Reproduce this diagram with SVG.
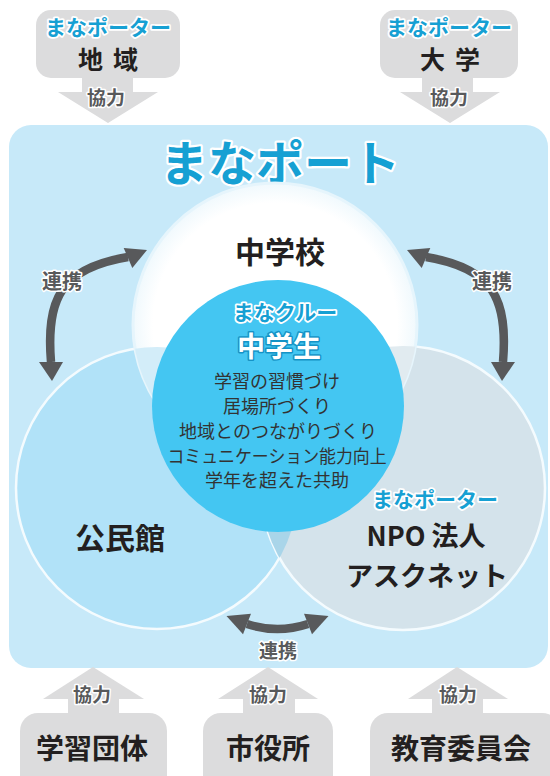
<svg xmlns="http://www.w3.org/2000/svg" width="550" height="776" viewBox="0 0 550 776">
<style>
text{font-family:"Noto Sans CJK JP","Noto Sans",sans-serif;text-anchor:middle;font-weight:700}
.dark{fill:#231f20}
.blue{fill:#16a0d3;stroke:#fff;stroke-width:3.5;paint-order:stroke;stroke-linejoin:round}
.gray{fill:#58595b;stroke:#fff;stroke-width:3;paint-order:stroke;stroke-linejoin:round}
.list{fill:#333;font-weight:400;font-size:18px}
.box{fill:#dcdcdd}
.link{fill:none;stroke:#58595b;stroke-width:8.5}
.head{fill:#58595b}
</style>
<defs>
<clipPath id="clipL"><circle cx="157" cy="488" r="141"/></clipPath>
<clipPath id="clipT"><circle cx="275" cy="325" r="142"/></clipPath>
<radialGradient id="gT" cx="0.5" cy="0.5" r="0.5">
<stop offset="0.86" stop-color="#ffffff"/>
<stop offset="1" stop-color="#f0f9fd"/>
</radialGradient>
</defs>

<rect id="bg" x="9" y="125" width="539" height="543" rx="22" fill="#c7e9f9"/>

<g id="partner-chiiki">
<rect class="box" x="36" y="10" width="144" height="68" rx="15"/>
<polygon class="box" points="82,76 133,76 133,92 158,92 108,123 58,92 82,92"/>
<text class="blue" x="108" y="35" font-size="21">まなポーター</text>
<text class="dark" x="113" y="69" font-size="25" letter-spacing="10">地域</text>
<text class="gray" x="106" y="105" font-size="19">協力</text>
</g>

<g id="partner-daigaku">
<rect class="box" x="380" y="10" width="138" height="68" rx="15"/>
<polygon class="box" points="422,76 473,76 473,92 500,92 450,123 400,92 422,92"/>
<text class="blue" x="449" y="35" font-size="21">まなポーター</text>
<text class="dark" x="455" y="69" font-size="25" letter-spacing="10">大学</text>
<text class="gray" x="449" y="105" font-size="19">協力</text>
</g>

<text id="title" class="blue" x="280" y="181" font-size="48" style="stroke-width:4.5">まなポート</text>

<g id="kominkan">
<circle cx="157" cy="488" r="141" fill="#b1e2f8" stroke="#f4fbfe" stroke-width="2.5"/>
</g>
<g id="npo">
<circle cx="403" cy="488" r="142" fill="#d4e3eb" stroke="#f4fbfe" stroke-width="2.5"/>
</g>
<circle cx="403" cy="488" r="142" fill="#a9d5e9" clip-path="url(#clipL)"/>

<g id="chugakko">
<circle cx="275" cy="325" r="142" fill="url(#gT)" stroke="#e6f5fc" stroke-width="3"/>
</g>
<circle cx="157" cy="488" r="141" fill="#d3edf9" clip-path="url(#clipT)"/>
<circle cx="403" cy="488" r="142" fill="#e1ebf0" clip-path="url(#clipT)"/>

<g id="chugakusei">
<circle cx="278" cy="406" r="126" fill="#44c6f2"/>
</g>

<text class="dark" x="280" y="263" font-size="30">中学校</text>
<text class="blue" x="285" y="320" font-size="21">まなクルー</text>
<text x="279" y="357" font-size="28" fill="#fff" stroke="#1593c6" stroke-width="3" paint-order="stroke" stroke-linejoin="round">中学生</text>
<text class="list" x="277" y="388">学習の習慣づけ</text>
<text class="list" x="277" y="413">居場所づくり</text>
<text class="list" x="278" y="438">地域とのつながりづくり</text>
<text class="list" x="277" y="463" textLength="219" lengthAdjust="spacingAndGlyphs">コミュニケーション能力向上</text>
<text class="list" x="277" y="487">学年を超えた共助</text>

<text class="dark" x="120" y="549" font-size="30">公民館</text>
<text class="blue" x="435" y="507" font-size="21">まなポーター</text>
<text class="dark" x="426" y="546" font-size="27">NPO 法人</text>
<text class="dark" x="427" y="586" font-size="27">アスクネット</text>

<g id="connectors">
<path class="link" d="M51 362 C46 300 60 268 128 257"/>
<polygon class="head" points="147,250 132.3,268.1 123.7,247.9"/>
<polygon class="head" points="39,362 63,362 52,381"/>
<path class="link" d="M503 362 C508 300 494 268 426 257"/>
<polygon class="head" points="407,250 421.7,268.1 430.3,247.9"/>
<polygon class="head" points="491,362 515,362 502,381"/>
<path class="link" d="M247 624 Q277.5 634 308 624"/>
<polygon class="head" points="226.5,616 251,613.8 243,634.2"/>
<polygon class="head" points="328.5,616 304,613.8 312,634.2"/>
<text class="gray" x="62" y="289" font-size="20">連携</text>
<text class="gray" x="492" y="289" font-size="20">連携</text>
<text class="gray" x="278" y="658" font-size="19">連携</text>
</g>

<g id="gakushudantai">
<polygon class="box" points="93,667 144,699 119,699 119,716 68,716 68,699 43,699"/>
<rect class="box" x="20" y="713" width="147" height="80" rx="18"/>
<text class="gray" x="92" y="702" font-size="19">協力</text>
<text class="dark" x="92" y="759" font-size="28">学習団体</text>
</g>
<g id="shiyakusho">
<polygon class="box" points="268,667 318,699 295,699 295,716 243,716 243,699 218,699"/>
<rect class="box" x="203" y="713" width="130" height="80" rx="18"/>
<text class="gray" x="268" y="702" font-size="19">協力</text>
<text class="dark" x="268" y="759" font-size="28">市役所</text>
</g>
<g id="kyoikuiinkai">
<polygon class="box" points="457,667 508,699 483,699 483,716 432,716 432,699 408,699"/>
<rect class="box" x="370" y="713" width="190" height="80" rx="18"/>
<text class="gray" x="458" y="702" font-size="19">協力</text>
<text class="dark" x="461" y="759" font-size="28">教育委員会</text>
</g>
</svg>
